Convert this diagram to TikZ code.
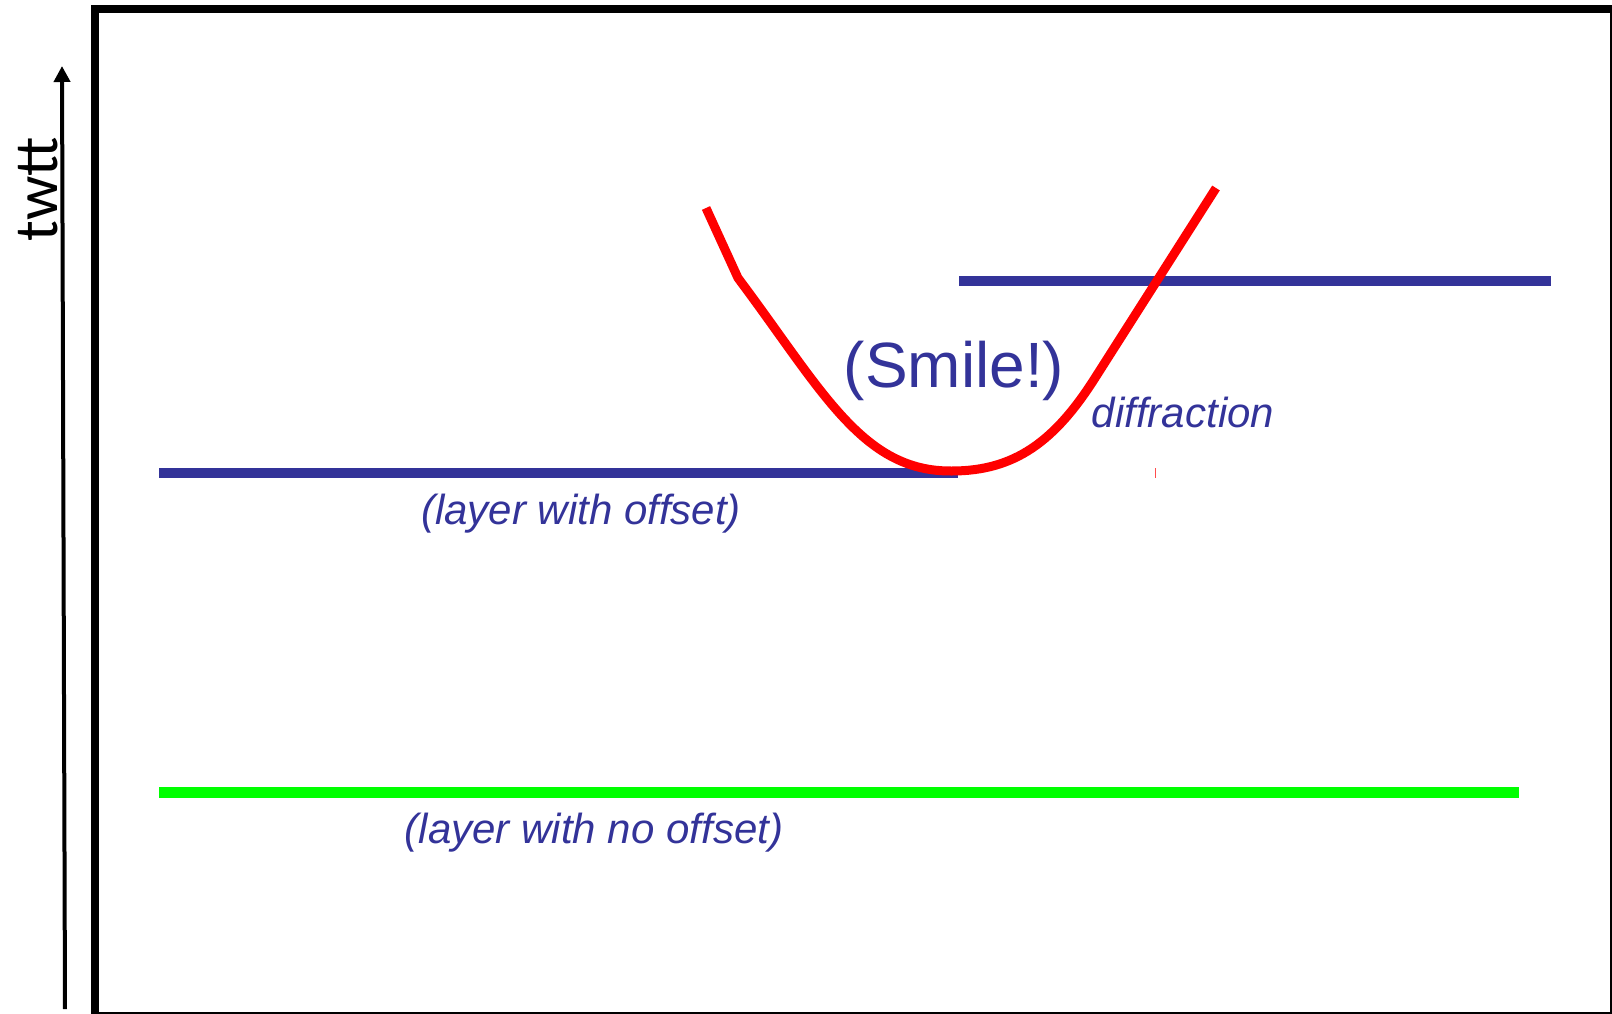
\documentclass[tikz,border=0pt]{standalone}
\usepackage{fontspec}
\setmainfont{Liberation Sans}
\newfontfamily\calibrifont{Carlito}
\usetikzlibrary{arrows.meta}
\definecolor{layerblue}{HTML}{333399}
\definecolor{smilered}{HTML}{FF0000}
\definecolor{flatgreen}{HTML}{00FF00}
\tikzset{
  bluelayer/.style={draw=layerblue, line width=10.5pt},
  greenlayer/.style={draw=flatgreen, line width=11pt},
  smilecurve/.style={draw=smilered, line width=9pt, line join=round},
  labeltext/.style={text=layerblue, inner sep=0pt, anchor=base},
  framethick/.style={draw=black, line width=8pt},
  framethin/.style={draw=black, line width=2pt},
}
\begin{document}
\begin{tikzpicture}[x=1pt, y=-1pt]
\useasboundingbox (0,0) rectangle (1612,1014);
% frame
\draw[framethick] (95,1020) -- (95,9) -- (1620,9);
\draw[framethin] (1611,9) -- (1611,1013) -- (95,1013);
% time axis
\coordinate (axbot) at (65,1009);
\coordinate (axtop) at (62,66);
\draw[line width=4pt, -{Triangle[length=16pt, width=16pt]}] (axbot) -- (axtop);
\node[rotate=90, inner sep=0pt, anchor=base] (twtt) at (57,189)
  {\calibrifont\fontsize{62}{70}\selectfont twtt};
% layers
\coordinate (ua) at (959,281);
\coordinate (ub) at (1551,281);
\draw[bluelayer] (ua) -- (ub);
\coordinate (la) at (159,473);
\coordinate (lb) at (958,473);
\draw[bluelayer] (la) -- (lb);
\coordinate (ga) at (159,792);
\coordinate (gb) at (1519,792);
\draw[greenlayer] (ga) -- (gb);
% smile curve
\coordinate (s0) at (706,208);
\coordinate (s1) at (738,278);
\coordinate (s2) at (952,471);
\coordinate (s3) at (1095,378);
\coordinate (s4) at (1216,188);
\draw[smilecurve] (s0) -- (s1)
  .. controls (822,390) and (862,472) .. (s2)
  .. controls (1015,471) and (1055,441) .. (s3) -- (s4);
% tiny red tick
\draw[draw=smilered!70, line width=1pt] (1155.5,468) -- (1155.5,478);
% labels
\node[labeltext] (smile) at (954,387) {\fontsize{64}{70}\selectfont (Smile!)};
\node[labeltext] (diff) at (1183,427) {\fontsize{42}{48}\selectfont\itshape diffraction};
\node[labeltext] (offs) at (581,524) {\fontsize{42}{48}\selectfont\itshape (layer with offset)};
\node[labeltext] (nooffs) at (594,843) {\fontsize{42}{48}\selectfont\itshape (layer with no offset)};
\end{tikzpicture}
\end{document}
